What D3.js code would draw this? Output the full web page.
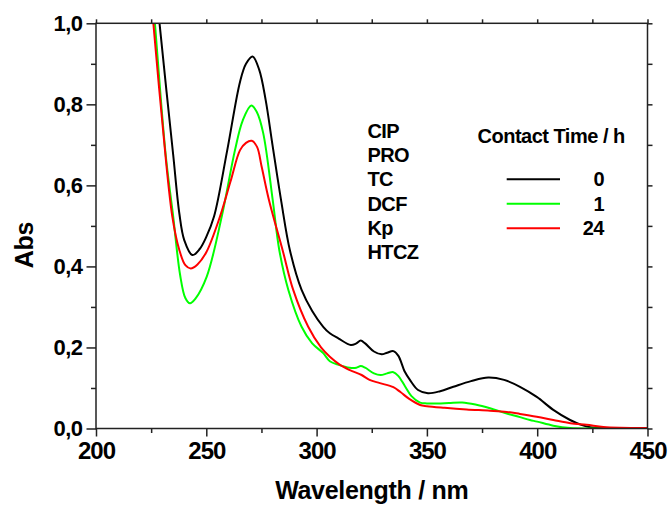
<!DOCTYPE html>
<html>
<head>
<meta charset="utf-8">
<title>Abs vs Wavelength</title>
<script src="https://d3js.org/d3.v7.min.js"></script>
<style>
  body {margin: 0; background: #fff;}
  text {font-family: "Liberation Sans", Arial, sans-serif; font-weight: bold; fill: #000;}
</style>
</head>
<body>
<svg id="chart" width="672" height="511"></svg>
<script>
// spectra (nm, Abs)
var wl0  = [225, 228.8, 232, 235, 237.8, 240, 243.7, 247, 250, 253.5, 259.5, 265.3, 268, 271, 274, 276.9, 280, 284, 287.9, 293.2, 298, 303, 306, 310, 315.5, 318, 320, 322, 326, 329.5, 332, 334.8, 337, 340, 342.3, 346, 350.5, 356, 362, 370, 377.8, 385, 392.2, 399.8, 407.3, 414.9, 420, 424, 430, 450];
var abs0 = [1.2, 1.0, 0.83, 0.675, 0.53, 0.465, 0.428, 0.443, 0.473, 0.523, 0.687, 0.856, 0.9, 0.918, 0.885, 0.811, 0.7, 0.56, 0.44, 0.342, 0.29, 0.251, 0.235, 0.222, 0.206, 0.21, 0.217, 0.21, 0.19, 0.183, 0.187, 0.191, 0.18, 0.14, 0.12, 0.095, 0.087, 0.092, 0.103, 0.117, 0.126, 0.12, 0.103, 0.078, 0.046, 0.021, 0.009, 0.003, 0.001, 0.0];

var wl1  = [225, 226.7, 231.6, 235, 238.1, 240.5, 242.6, 245, 250.2, 257, 263, 266.5, 270.4, 273, 275.8, 280.1, 283.1, 287.2, 293.2, 298, 303, 306, 310, 315, 318, 320, 322, 326, 329, 332, 334.8, 337, 340, 343, 346.9, 350, 355, 360, 366, 372, 378.6, 386.2, 392.2, 396.7, 400, 407.3, 415, 425, 450];
var abs1 = [1.11, 1.0, 0.675, 0.523, 0.38, 0.322, 0.309, 0.32, 0.375, 0.523, 0.687, 0.76, 0.797, 0.78, 0.729, 0.564, 0.44, 0.342, 0.251, 0.21, 0.186, 0.166, 0.157, 0.15, 0.15, 0.154, 0.15, 0.136, 0.132, 0.136, 0.139, 0.13, 0.105, 0.08, 0.064, 0.062, 0.062, 0.063, 0.064, 0.059, 0.05, 0.037, 0.028, 0.021, 0.017, 0.007, 0.001, 0.0, 0.0];

var wl24  = [225, 226, 230, 234.6, 237.8, 240.5, 242.9, 246, 250, 256.2, 261, 265.3, 268, 270.6, 273, 275.1, 278.4, 284.6, 289.4, 296.2, 302, 306, 310.6, 315.1, 320.4, 324, 328.7, 334.8, 338, 342, 346.9, 350, 358, 368, 378.6, 386.2, 392.2, 399.8, 407.3, 415, 422.4, 430, 437.5, 450];
var abs24 = [1.07, 1.0, 0.76, 0.523, 0.44, 0.403, 0.395, 0.405, 0.435, 0.523, 0.61, 0.687, 0.705, 0.71, 0.695, 0.646, 0.564, 0.44, 0.342, 0.251, 0.2, 0.177, 0.157, 0.144, 0.132, 0.12, 0.112, 0.102, 0.09, 0.073, 0.058, 0.055, 0.051, 0.047, 0.044, 0.041, 0.036, 0.029, 0.021, 0.013, 0.009, 0.004, 0.002, 0.001];

var compounds = ["CIP", "PRO", "TC", "DCF", "Kp", "HTCZ"];
var times = ["0", "1", "24"];
var colors = ["#000000", "#00ff00", "#ff0000"];
var xTicks = [200, 250, 300, 350, 400, 450];
var yTicks = [0, 0.2, 0.4, 0.6, 0.8, 1.0];

var series = [
  {wl: wl0, abs: abs0},
  {wl: wl1, abs: abs1},
  {wl: wl24, abs: abs24}
];

var svg = d3.select("#chart");
var pL = 96, pR = 647.5, pT = 23.3, pB = 428.5;

var x = d3.scaleLinear().domain([200, 450]).range([pL, pR]);
var y = d3.scaleLinear().domain([0, 1]).range([pB, pT]);

svg.append("clipPath").attr("id", "clip")
  .append("rect").attr("x", pL).attr("y", pT)
  .attr("width", pR - pL).attr("height", pB - pT);

// spectra
var line = d3.line().x(d => x(d[0])).y(d => y(d[1])).curve(d3.curveCatmullRom.alpha(0.5));
var g = svg.append("g").attr("clip-path", "url(#clip)");
[0, 1, 2].forEach(function(i) {
  var pts = series[i].wl.map((w, k) => [w, series[i].abs[k]]);
  g.append("path").attr("d", line(pts))
    .attr("fill", "none").attr("stroke", colors[i]).attr("stroke-width", 2);
});

// axes
var axColor = "#222";
function styleAxis(sel) {
  sel.select(".domain").remove();
  sel.selectAll("line").attr("stroke", axColor).attr("stroke-width", 1.5);
}
var minorX = d3.range(225, 450, 50);
var minorY = [0.1, 0.3, 0.5, 0.7, 0.9];

var xAxis = svg.append("g").attr("transform", "translate(0," + pB + ")")
  .call(d3.axisBottom(x).tickValues(xTicks).tickSize(8).tickPadding(5).tickFormat(d3.format("d")));
styleAxis(xAxis);
xAxis.selectAll("text").style("font-size", "24px").style("letter-spacing", "-1px")
  .style("font-family", '"Liberation Sans", Arial, sans-serif').style("font-weight", "bold").attr("fill", "#000");
svg.append("g").attr("transform", "translate(0," + pB + ")")
  .call(d3.axisBottom(x).tickValues(minorX).tickSize(4.5).tickFormat(""))
  .call(styleAxis);
svg.append("g").attr("transform", "translate(0," + pT + ")")
  .call(d3.axisTop(x).tickValues(xTicks.concat(minorX)).tickSize(4).tickFormat(""))
  .call(styleAxis);

var yAxis = svg.append("g").attr("transform", "translate(" + pL + ",0)")
  .call(d3.axisLeft(y).tickValues(yTicks).tickSize(9.5).tickPadding(4)
    .tickFormat(d => d3.format(".1f")(d).replace(".", ",")));
styleAxis(yAxis);
yAxis.selectAll("text").style("font-size", "22px").style("letter-spacing", "-0.5px")
  .style("font-family", '"Liberation Sans", Arial, sans-serif').style("font-weight", "bold").attr("fill", "#000");
svg.append("g").attr("transform", "translate(" + pL + ",0)")
  .call(d3.axisLeft(y).tickValues(minorY).tickSize(5).tickFormat(""))
  .call(styleAxis);
svg.append("g").attr("transform", "translate(" + pR + ",0)")
  .call(d3.axisRight(y).tickValues(yTicks.concat(minorY)).tickSize(5).tickFormat(""))
  .call(styleAxis);

// frame
svg.append("rect").attr("x", pL).attr("y", pT)
  .attr("width", pR - pL).attr("height", pB - pT)
  .attr("fill", "none").attr("stroke", axColor).attr("stroke-width", 1.5);

// axis titles
svg.append("text").attr("x", (pL + pR) / 2).attr("y", 499)
  .attr("text-anchor", "middle").style("font-size", "25px").style("letter-spacing", "-0.3px")
  .text("Wavelength / nm");
svg.append("text").attr("transform", "translate(33,245) rotate(-90)")
  .attr("text-anchor", "middle").style("font-size", "25px").style("letter-spacing", "-0.3px")
  .text("Abs");

// compound list
svg.selectAll(".cmp").data(compounds).enter().append("text")
  .attr("class", "cmp")
  .attr("x", 367.5).attr("y", (d, i) => 137.7 + i * 24.35)
  .style("font-size", "20px").style("letter-spacing", "-0.6px")
  .text(d => d);

// legend
svg.append("text").attr("x", 477.5).attr("y", 143.3)
  .style("font-size", "20px").style("letter-spacing", "-0.5px")
  .text("Contact Time / h");
var lg = svg.selectAll(".lg").data(times).enter().append("g").attr("class", "lg")
  .attr("transform", (d, i) => "translate(0," + (179.3 + i * 24.5) + ")");
lg.append("line").attr("x1", 506.7).attr("x2", 560).attr("y1", 0).attr("y2", 0)
  .attr("stroke", (d, i) => colors[i]).attr("stroke-width", 2);
lg.append("text").attr("x", 604).attr("y", 6.8).attr("text-anchor", "end")
  .style("font-size", "20px").style("letter-spacing", "-0.5px")
  .text(d => d);
</script>
</body>
</html>
